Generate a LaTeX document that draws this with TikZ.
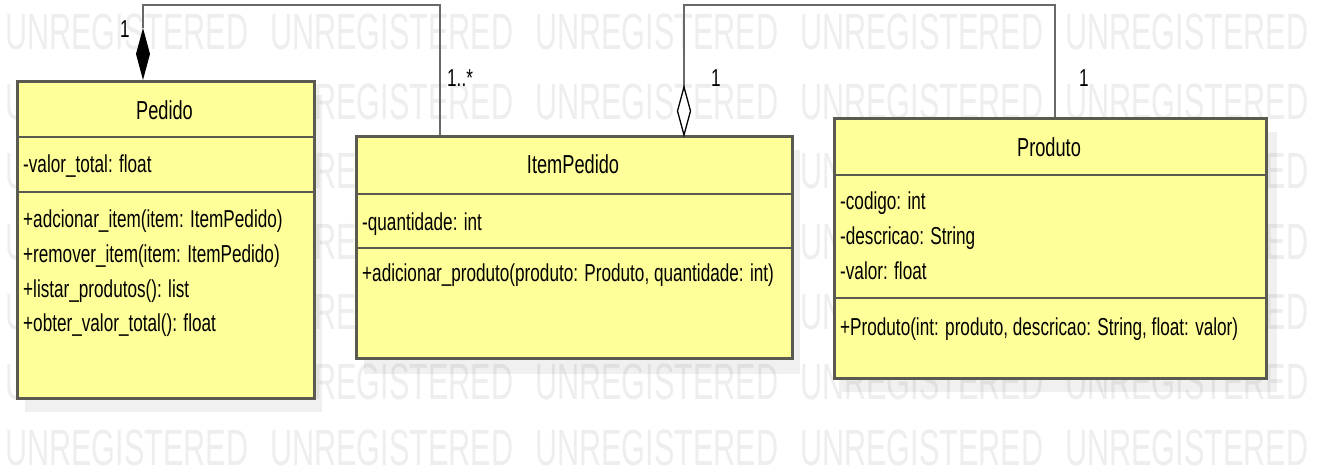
\documentclass[tikz,border=0pt]{standalone}
\usepackage{fontspec}
\setmainfont{Liberation Sans}
\newfontfamily\boxfont{Liberation Sans}[FakeStretch=0.70]
\newfontfamily\ttlfont{Liberation Sans}[FakeStretch=0.70]
\newfontfamily\wmfont{Liberation Sans}[FakeStretch=0.60]
\usetikzlibrary{calc}
\definecolor{umlfill}{RGB}{255,255,153}
\definecolor{umlborder}{RGB}{90,90,80}
\definecolor{connclr}{RGB}{105,105,105}
\definecolor{wmclr}{RGB}{238,238,238}
\begin{document}
\begin{tikzpicture}[x=1pt,y=-1pt,
  wm/.style={font=\wmfont\fontsize{51}{51}\selectfont, text=wmclr, anchor=base west, inner sep=0pt},
  umlbox/.style={draw=umlborder, line width=2.6pt, fill=umlfill, anchor=north west, inner sep=0pt},
  shadowbox/.style={fill=black, opacity=0.06, draw=none},
  sepline/.style={draw=umlborder, line width=2.6pt},
  txt/.style={font=\boxfont\fontsize{24.5}{27}\selectfont, anchor=base west, inner sep=0pt},
  ttl/.style={font=\ttlfont\fontsize{26}{27}\selectfont, anchor=base, inner sep=0pt},
  conn/.style={draw=connclr, line width=2.6pt},
  mult/.style={font=\boxfont\fontsize{24.5}{27}\selectfont, anchor=base west, inner sep=0pt}]
\useasboundingbox (0,0) rectangle (1325,473);
\fill[white] (0,0) rectangle (1325,473);
% watermark
\foreach \r/\yb in {1/50,2/120,3/189,4/259,5/329,6/399,7/465}{
  \foreach \c/\xb in {1/5,2/270,3/535,4/800,5/1065}{
    \node[wm] (wm-\r-\c) at (\xb,\yb) {UNREGISTERED};
  }
}
% shadows
\fill[shadowbox] (25,95) rectangle (322,412);
\fill[shadowbox] (364,150) rectangle (800,374);
\fill[shadowbox] (842,132) rectangle (1277,392);
% boxes
\node[umlbox, minimum width=297pt, minimum height=317pt] (pedido) at (16,80) {};
\node[umlbox, minimum width=436pt, minimum height=222pt] (item) at (355,135) {};
\node[umlbox, minimum width=432pt, minimum height=260pt] (produto) at (833,117) {};
% compartments
\draw[sepline] ($(pedido.north west)+(0,57)$) -- ($(pedido.north east)+(0,57)$);
\draw[sepline] ($(pedido.north west)+(0,112)$) -- ($(pedido.north east)+(0,112)$);
\draw[sepline] ($(item.north west)+(0,59)$) -- ($(item.north east)+(0,59)$);
\draw[sepline] ($(item.north west)+(0,113)$) -- ($(item.north east)+(0,113)$);
\draw[sepline] ($(produto.north west)+(0,58)$) -- ($(produto.north east)+(0,58)$);
\draw[sepline] ($(produto.north west)+(0,181)$) -- ($(produto.north east)+(0,181)$);
% Pedido texts
\node[ttl] (pedido-t) at (164.5,120) {Pedido};
\node[txt] (pedido-a1) at (23,173) {-valor\_total: float};
\node[txt] (pedido-m1) at (23,228) {+adcionar\_item(item: ItemPedido)};
\node[txt] (pedido-m2) at (23,262.5) {+remover\_item(item: ItemPedido)};
\node[txt] (pedido-m3) at (23,297) {+listar\_produtos(): list};
\node[txt] (pedido-m4) at (23,331.5) {+obter\_valor\_total(): float};
% ItemPedido texts
\node[ttl] (item-t) at (573,174) {ItemPedido};
\node[txt] (item-a1) at (362,230) {-quantidade: int};
\node[txt] (item-m1) at (362,281) {+adicionar\_produto(produto: Produto, quantidade: int)};
% Produto texts
\node[ttl] (produto-t) at (1049,157) {Produto};
\node[txt] (produto-a1) at (840,210) {-codigo: int};
\node[txt] (produto-a2) at (840,244.5) {-descricao: String};
\node[txt] (produto-a3) at (840,279) {-valor: float};
\node[txt] (produto-m1) at (840,335) {+Produto(int: produto, descricao: String, float: valor)};
% connectors
\coordinate (toprow) at (0,5);
\coordinate (c1) at ($(pedido.north west)+(127,0)$);
\coordinate (c1tip) at ($(c1)+(0,-52)$);
\coordinate (c2) at ($(item.north west)+(85,0)$);
\coordinate (c3) at ($(item.north west)+(329,0)$);
\coordinate (c3tip) at ($(c3)+(0,-48)$);
\coordinate (c4) at ($(produto.north west)+(222,0)$);
\draw[conn, line join=miter] (c1tip) -- (c1tip |- toprow) -- (c2 |- toprow) -- (c2);
\draw[conn, line join=miter] (c3tip) -- (c3tip |- toprow) -- (c4 |- toprow) -- (c4);
\fill[black] (c1) -- ++(7,-26) -- ++(-7,-26) -- ++(-7,26) -- cycle;
\draw[black, line width=1.3pt, fill=white] (c3) -- ++(6.5,-24) -- ++(-6.5,-24) -- ++(-6.5,24) -- cycle;
% multiplicities
\node[mult] (m1) at (120,38) {1};
\node[mult] (m2) at (447,87) {1..*};
\node[mult] (m3) at (711,87) {1};
\node[mult] (m4) at (1079,87) {1};
\end{tikzpicture}
\end{document}
